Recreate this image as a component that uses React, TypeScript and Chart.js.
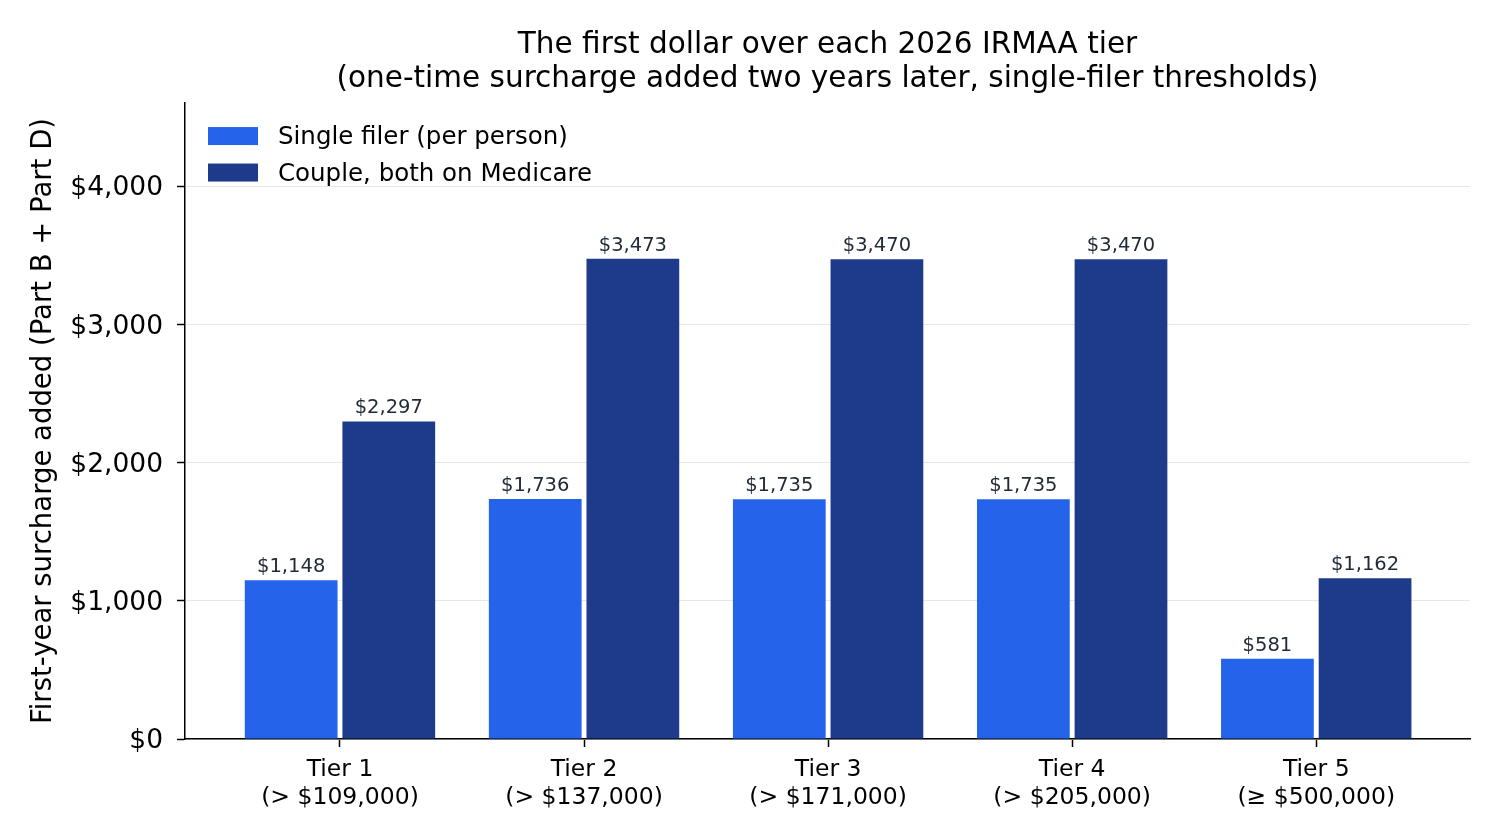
import React, { useEffect, useRef } from "react";
import { Chart, registerables } from "chart.js";

Chart.register(...registerables);

const tierNames = ["Tier 1", "Tier 2", "Tier 3", "Tier 4", "Tier 5"];
const tierThresholds = ["(> $109,000)", "(> $137,000)", "(> $171,000)", "(> $205,000)", "(≥ $500,000)"];
const singleValues = [1148, 1736, 1735, 1735, 581];
const coupleValues = [2297, 3473, 3470, 3470, 1162];
const seriesLabels = ["Single filer (per person)", "Couple, both on Medicare"];
const seriesColors = ["#2563eb", "#1e3a8a"];
const yTickValues = [0, 1000, 2000, 3000, 4000];
const titleLines = [
  "The first dollar over each 2026 IRMAA tier",
  "(one-time surcharge added two years later, single-filer thresholds)",
];
const yAxisTitle = "First-year surcharge added (Part B + Part D)";

const FONT = "'DejaVu Sans', 'Liberation Sans', sans-serif";

const fmt = (v: number) => "$" + Math.round(v).toLocaleString("en-US");

const barLabelPlugin = {
  id: "barLabels",
  afterDatasetsDraw(chart: any) {
    const ctx = chart.ctx;
    ctx.save();
    ctx.font = `19.5px ${FONT}`;
    ctx.fillStyle = "#1f2937";
    ctx.textAlign = "center";
    ctx.textBaseline = "alphabetic";
    chart.data.datasets.forEach((ds: any, di: number) => {
      const meta = chart.getDatasetMeta(di);
      meta.data.forEach((el: any, i: number) => {
        const v = ds.data[i].y;
        ctx.fillText(fmt(v), el.x, el.y - 8);
      });
    });
    ctx.restore();
  },
};

const insideLegendPlugin = {
  id: "insideLegend",
  afterDraw(chart: any) {
    const ctx = chart.ctx;
    const area = chart.chartArea;
    ctx.save();
    ctx.font = `24.5px ${FONT}`;
    ctx.textBaseline = "middle";
    ctx.textAlign = "left";
    chart.data.datasets.forEach((ds: any, i: number) => {
      const cy = area.top + 33 + i * 36.5;
      ctx.fillStyle = ds.backgroundColor;
      ctx.fillRect(area.left + 23, cy - 9, 50, 18);
      ctx.fillStyle = "#000";
      ctx.fillText(ds.label, area.left + 93, cy + 2);
    });
    ctx.restore();
  },
};

export default function App() {
  const ref = useRef<HTMLCanvasElement | null>(null);
  useEffect(() => {
    if (!ref.current) return;
    const chart = new Chart(ref.current, {
      type: "bar",
      data: {
        datasets: [
          {
            label: seriesLabels[0],
            data: singleValues.map((v, i) => ({ x: i, y: v })),
            backgroundColor: seriesColors[0],
          },
          {
            label: seriesLabels[1],
            data: coupleValues.map((v, i) => ({ x: i, y: v })),
            backgroundColor: seriesColors[1],
          },
        ],
      },
      options: {
        responsive: false,
        animation: false,
        devicePixelRatio: 1,
        layout: { padding: { left: 0, right: 30, top: 10, bottom: 0 } },
        datasets: { bar: { categoryPercentage: 0.8, barPercentage: 0.95 } },
        plugins: {
          legend: { display: false },
          tooltip: { enabled: false },
          title: {
            display: true,
            fullSize: false,
            text: titleLines,
            color: "#000",
            font: { family: FONT, size: 29.5, weight: "normal", lineHeight: 1.15 },
            padding: { top: 18, bottom: 7.2 },
          },
        },
        scales: {
          x: {
            type: "linear",
            offset: false,
            min: -0.635,
            max: 4.63,
            afterBuildTicks: (scale: any) => {
              scale.ticks = tierNames.map((_, i) => ({ value: i }));
            },
            afterFit: (scale: any) => {
              scale.height = 101;
            },
            ticks: {
              callback: (v: any) => [tierNames[v], tierThresholds[v]],
              color: "#000",
              font: { family: FONT, size: 23.5, lineHeight: 1.19 },
              padding: 9,
              maxRotation: 0,
              autoSkip: false,
            },
            grid: {
              offset: false,
              drawOnChartArea: false,
              drawTicks: true,
              tickLength: 8,
              tickColor: "#000",
              tickWidth: 1.5,
            },
            border: { color: "#000", width: 1.5 },
          },
          y: {
            min: 0,
            max: 4600,
            afterBuildTicks: (scale: any) => {
              scale.ticks = yTickValues.map((v) => ({ value: v }));
            },
            afterFit: (scale: any) => {
              scale.width = 185;
            },
            ticks: {
              callback: (v: any) => fmt(Number(v)),
              color: "#000",
              font: { family: FONT, size: 26.5 },
              padding: 14,
              labelOffset: 2.5,
            },
            grid: {
              color: "#e5e7eb",
              lineWidth: 1,
              drawTicks: true,
              tickLength: 8,
              tickColor: "#000",
              tickWidth: 1.5,
            },
            border: { color: "#000", width: 1.5 },
            title: {
              display: true,
              text: yAxisTitle,
              color: "#000",
              font: { family: FONT, size: 27.5, lineHeight: 1.2 },
              padding: { top: 27, bottom: 0 },
            },
          },
        },
      },
      plugins: [barLabelPlugin, insideLegendPlugin],
    } as any);
    return () => chart.destroy();
  }, []);
  return (
    <div style={{ position: "fixed", left: 0, top: 0, width: 1500, height: 840, background: "#fff" }}>
      <canvas ref={ref} width={1500} height={840} />
    </div>
  );
}
